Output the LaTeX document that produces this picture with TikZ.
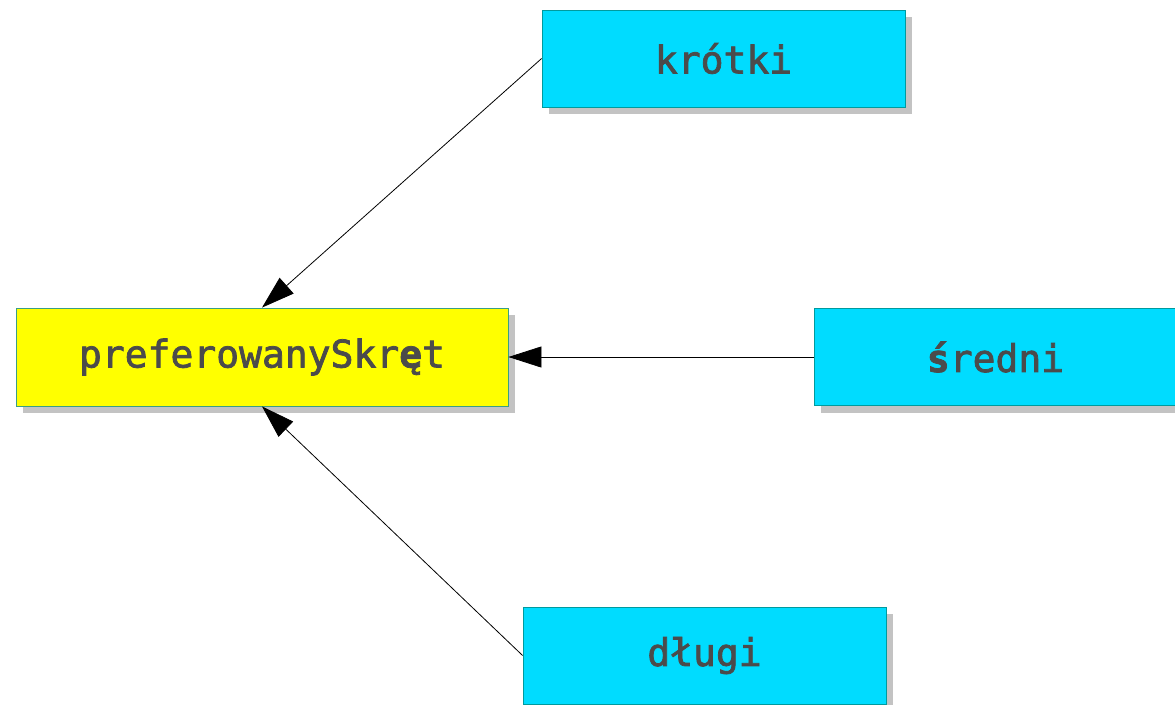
\documentclass[tikz,border=0pt]{standalone}
\usepackage{fontspec}
\newfontfamily\boxfont[FakeBold=2]{DejaVu Sans Mono}
\newfontfamily\boxfontheavy[FakeBold=2]{DejaVu Sans Mono Bold}
\usetikzlibrary{arrows.meta,shadows}
\definecolor{boxcyan}{HTML}{00DCFF}
\definecolor{boxyellow}{HTML}{FFFF00}
\definecolor{cyanedge}{HTML}{009A9E}
\definecolor{yellowedge}{HTML}{3A9E84}
\definecolor{shadowgray}{HTML}{C3C3C3}
\definecolor{labelgray}{HTML}{4B4B4B}
\newcommand{\heavyglyph}[1]{{\boxfontheavy #1}}
\tikzset{
  classbox/.style={rectangle, minimum width=363pt, minimum height=97pt,
    inner sep=0pt, line width=0.8pt, text=labelgray,
    font=\boxfont\fontsize{38}{40}\selectfont,
    drop shadow={shadow xshift=7pt, shadow yshift=-7pt, fill=shadowgray, opacity=1}},
  valuebox/.style={classbox, fill=boxcyan, draw=cyanedge},
  mainbox/.style={classbox, fill=boxyellow, draw=yellowedge, minimum width=492pt, minimum height=98pt},
  link/.style={line width=0.8pt, -{Triangle[length=33pt, width=21pt]}}
}
\begin{document}
\begin{tikzpicture}[x=1pt, y=-1pt]
  \useasboundingbox (0,0) rectangle (1175,704);
  \clip (0,0) rectangle (1175,704);
  \node[mainbox]  (pref)  at (262,357)   {preferowanySkr\heavyglyph{ę}t};
  \node[valuebox] (short) at (723.5,58.5) {krótki};
  \node[valuebox] (mid)   at (995.5,357) {\heavyglyph{ś}redni};
  \node[valuebox] (long)  at (704.5,655.5) {długi};
  \draw[link] (short.west) -- (pref.north);
  \draw[link] (mid.west) -- (pref.east);
  \draw[link] (long.west) -- (pref.south);
\end{tikzpicture}
\end{document}
